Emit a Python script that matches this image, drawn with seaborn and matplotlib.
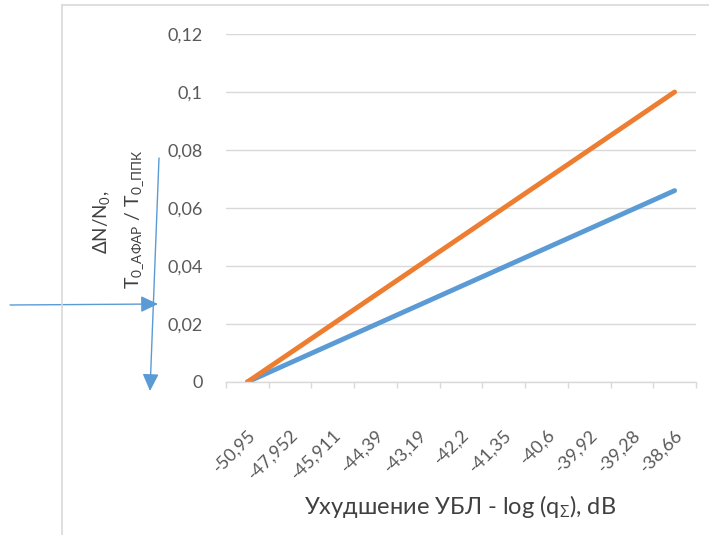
import matplotlib
matplotlib.use("Agg")
import matplotlib.pyplot as plt
from matplotlib.patches import FancyArrowPatch
from matplotlib.lines import Line2D
import numpy as np
import pandas as pd
import seaborn as sns

# Side-lobe level degradation categories (dB) and the two ratios
categories = ["-50,95", "-47,952", "-45,911", "-44,39", "-43,19", "-42,2",
              "-41,35", "-40,6", "-39,92", "-39,28", "-38,66"]
ratio_dn = [0.0, 0.0066, 0.0132, 0.0198, 0.0264, 0.033,
            0.0396, 0.0462, 0.0528, 0.0594, 0.066]
ratio_t = [0.0, 0.01, 0.02, 0.03, 0.04, 0.05,
           0.06, 0.07, 0.08, 0.09, 0.10]
y_ticks = [0, 0.02, 0.04, 0.06, 0.08, 0.1, 0.12]
y_tick_labels = ["0", "0,02", "0,04", "0,06", "0,08", "0,1", "0,12"]

sns.set_theme(style="white")
FONT = ["Lato", "Open Sans", "DejaVu Sans"]
plt.rcParams["font.family"] = FONT
plt.rcParams["mathtext.fontset"] = "custom"
plt.rcParams["mathtext.rm"] = "Open Sans"
plt.rcParams["mathtext.it"] = "Open Sans"

GRID = "#D9D9D9"
TEXT = "#595959"
TITLE = "#404040"
BLUE = "#5B9BD5"
ORANGE = "#ED7D31"

W, H = 709, 535
fig = plt.figure(figsize=(W / 100, H / 100), dpi=100)

def fx(px):
    return px / W

def fy(py):
    return 1 - py / H

ax = fig.add_axes([fx(226), fy(382), fx(696) - fx(226), fy(34) - fy(382)])

idx = np.arange(len(categories))
df = pd.DataFrame({"idx": np.concatenate([idx, idx]),
                   "val": ratio_dn + ratio_t,
                   "series": ["dn"] * len(idx) + ["t"] * len(idx)})
sns.lineplot(data=df, x="idx", y="val", hue="series",
             palette={"dn": BLUE, "t": ORANGE}, linewidth=3.5,
             legend=False, ax=ax, solid_capstyle="round")

ax.set_xlim(-0.5, len(categories) - 0.5)
ax.set_ylim(0, 0.12)
ax.set_yticks(y_ticks)
ax.set_yticklabels(y_tick_labels)
ax.yaxis.grid(True, color=GRID, linewidth=1.0)
ax.set_axisbelow(True)

ax.set_xticks(idx)
ax.set_xticklabels(categories, rotation=45, ha="right", va="top",
                   rotation_mode="anchor")
ax.set_xticks(np.arange(-0.5, len(categories)), minor=True)
ax.tick_params(axis="x", which="major", length=0, pad=32, labelsize=13,
               labelcolor=TEXT)
ax.tick_params(axis="x", which="minor", length=4.5, width=1, color=GRID,
               bottom=True)
ax.tick_params(axis="y", length=0, pad=17, labelsize=13, labelcolor=TEXT)

for side in ["top", "right", "left"]:
    ax.spines[side].set_visible(False)
ax.spines["bottom"].set_color(GRID)
ax.spines["bottom"].set_linewidth(1.0)
ax.set_xlabel("")
ax.set_ylabel("")

# Axis titles
fig.text(fx(460), fy(506), r"Ухудшение УБЛ - log (q$_{\Sigma}$), dB",
         ha="center", va="center", fontsize=17, color=TITLE)
fig.text(fx(102), fy(222), r"ΔN/N$_{\mathregular{0}}$,", rotation=90,
         ha="center", va="center", fontsize=13.5, color=TITLE)
fig.text(fx(135), fy(219),
         r"T$_{\mathregular{0\_АФАР}}$ / T$_{\mathregular{0\_ППК}}$",
         rotation=90, ha="center", va="center", fontsize=14, color=TITLE)

# Chart area frame
fig.add_artist(Line2D([fx(62), fx(62)], [fy(5), 0], color=GRID, linewidth=1.2))
fig.add_artist(Line2D([fx(62), 1], [fy(5), fy(5)], color=GRID, linewidth=1.2))

# Pointer arrows
for (x0, y0), (x1, y1) in [((10, 305), (158, 304)), ((159, 158), (150, 391))]:
    fig.add_artist(FancyArrowPatch(
        (fx(x0), fy(y0)), (fx(x1), fy(y1)), transform=fig.transFigure,
        arrowstyle="-|>,head_length=0.95,head_width=0.45", mutation_scale=11,
        color=BLUE, linewidth=1.0, shrinkA=0, shrinkB=0))

fig.savefig("out.png", dpi=100)
